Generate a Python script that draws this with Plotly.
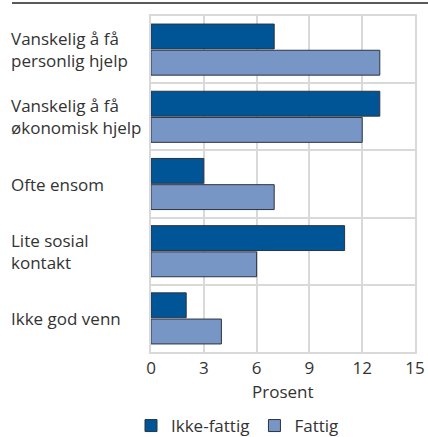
import plotly.graph_objects as go

categories = ["Vanskelig å få<br>personlig hjelp", "Vanskelig å få<br>økonomisk hjelp",
              "Ofte ensom", "Lite sosial<br>kontakt", "Ikke god venn"]
ikke_fattig = [7, 13, 3, 11, 2]
fattig = [13, 12, 7, 6, 4]
x_ticks = [0, 3, 6, 9, 12, 15]
x_title = "Prosent"

W, H = 428, 437
L, R, T, B = 151, 13, 16, 85
pw, ph = W - L - R, H - T - B

ypos = list(range(len(categories)))
txt = "#333333"
grid = "#d9d9d9"

fig = go.Figure()
fig.add_trace(go.Bar(y=ypos, x=ikke_fattig, orientation="h", name="Ikke-fattig",
                     marker=dict(color="#005597", line=dict(color="#2b3440", width=1))))
fig.add_trace(go.Bar(y=ypos, x=fattig, orientation="h", name="Fattig",
                     marker=dict(color="#7795c5", line=dict(color="#2b3440", width=1))))

for i, c in enumerate(categories):
    fig.add_annotation(x=(9 - L) / pw, xref="paper", y=i, yref="y", text=c,
                       xanchor="left", align="left", showarrow=False,
                       font=dict(size=17, color=txt))

fig.add_annotation(x=0.5, xref="paper", y=-(391 - (T + ph)) / ph, yref="paper",
                   text=x_title, showarrow=False, xanchor="center", yanchor="middle",
                   font=dict(size=17, color=txt))

fig.add_shape(type="line", xref="paper", yref="paper",
              x0=(12 - L) / pw, x1=(W - L) / pw, y0=1 + 13 / ph, y1=1 + 13 / ph,
              line=dict(color="#5a5a5a", width=2))

fig.update_layout(
    width=W, height=H, margin=dict(l=L, r=R, t=T, b=B, autoexpand=False),
    paper_bgcolor="white", plot_bgcolor="white",
    font=dict(family="Open Sans", size=17, color=txt),
    barmode="group", bargap=0.22, bargroupgap=0.05,
    showlegend=True,
    legend=dict(orientation="h", xref="container", yref="container",
                x=131 / W, xanchor="left", y=(H - 426) / H, yanchor="middle",
                font=dict(size=17, color=txt), traceorder="normal", itemwidth=30),
    xaxis=dict(range=[0, 15], tickvals=x_ticks, showgrid=True, gridcolor=grid, gridwidth=2,
               showline=True, linecolor=grid, linewidth=2, mirror=True, zeroline=False,
               ticks="", tickfont=dict(size=17, color=txt), ticklabelstandoff=0,
               automargin=False),
    yaxis=dict(range=[len(categories) - 0.5, -0.5], tick0=0.5, dtick=1, showticklabels=False,
               showgrid=True, gridcolor=grid, gridwidth=2, zeroline=False, automargin=False,
               showline=True, linecolor=grid, linewidth=2, mirror=True, ticks=""),
)
fig.write_html("out.html", config={"displayModeBar": False},
               post_script="document.body.style.margin='0';document.body.style.overflow='hidden';")
